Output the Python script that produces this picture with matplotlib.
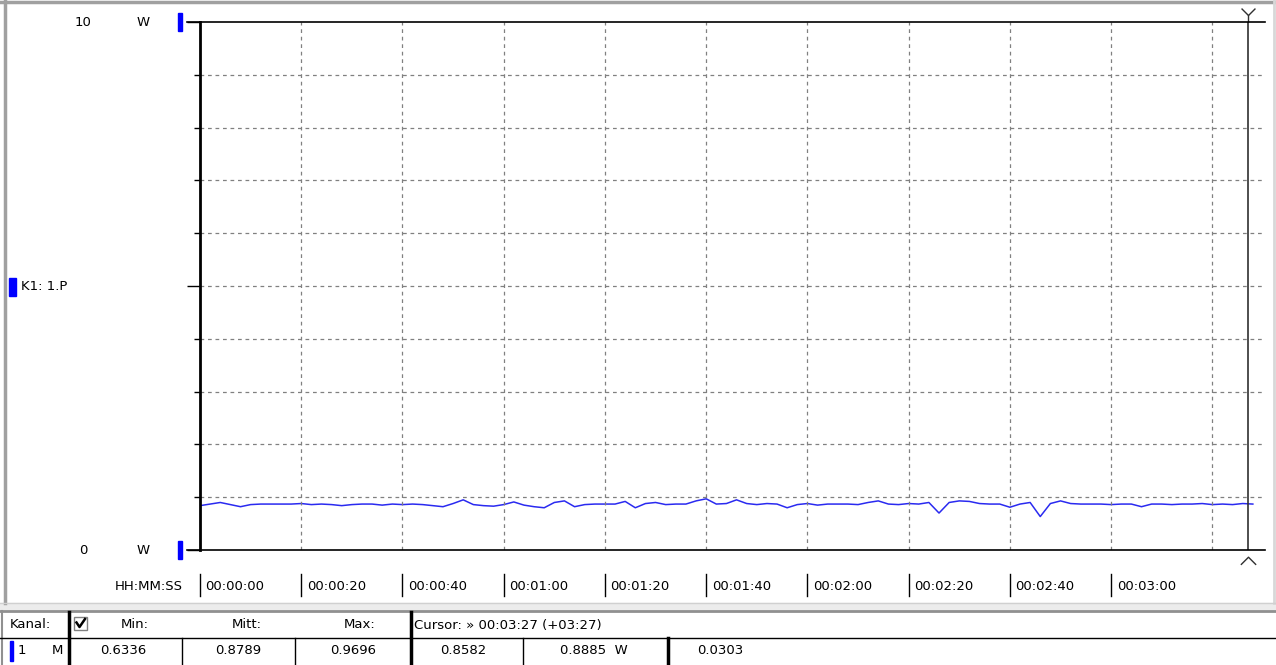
import matplotlib
matplotlib.use("Agg")
import matplotlib.pyplot as plt
from matplotlib.transforms import Affine2D
from matplotlib.path import Path
from matplotlib.lines import Line2D
from matplotlib.patches import Rectangle

plt.rcParams['font.family'] = ['DejaVu Sans']

#%% data
time_s = list(range(0, 210, 2))
power_w = [0.84, 0.87, 0.90, 0.86, 0.82, 0.86, 0.87, 0.87, 0.87, 0.87,
           0.88, 0.86, 0.87, 0.86, 0.84, 0.86, 0.87, 0.87, 0.85, 0.87,
           0.86, 0.87, 0.86, 0.84, 0.82, 0.88, 0.95, 0.86, 0.84, 0.83,
           0.86, 0.91, 0.85, 0.82, 0.80, 0.90, 0.93, 0.82, 0.86, 0.87,
           0.87, 0.87, 0.92, 0.80, 0.88, 0.90, 0.86, 0.87, 0.87, 0.93,
           0.9696, 0.87, 0.88, 0.95, 0.88, 0.86, 0.88, 0.87, 0.80, 0.86,
           0.88, 0.85, 0.87, 0.87, 0.87, 0.86, 0.90, 0.93, 0.87, 0.86,
           0.88, 0.87, 0.90, 0.70, 0.90, 0.93, 0.92, 0.88, 0.87, 0.87,
           0.81, 0.87, 0.90, 0.6336, 0.88, 0.93, 0.88, 0.87, 0.87, 0.87,
           0.86, 0.87, 0.87, 0.82, 0.87, 0.87, 0.86, 0.87, 0.87, 0.88,
           0.86, 0.87, 0.86, 0.88, 0.87]
x_ticks = [0, 20, 40, 60, 80, 100, 120, 140, 160, 180]
x_labels = ["00:00:00", "00:00:20", "00:00:40", "00:01:00", "00:01:20",
            "00:01:40", "00:02:00", "00:02:20", "00:02:40", "00:03:00"]
x_grid = [20, 40, 60, 80, 100, 120, 140, 160, 180, 200]
y_min, y_max = 0, 10
cursor_s = 207
t_end = 210.4

head_labels = ["Min:", "Mitt:", "Max:"]
row_values = ["0.6336", "0.8789", "0.9696", "0.8582", "0.8885  W", "0.0303"]
cursor_text = "Cursor: \u00bb 00:03:27 (+03:27)"

#%% figure
W, H = 1276, 665
fig = plt.figure(figsize=(W / 100, H / 100), dpi=100)
pix = Affine2D().scale(1 / W, -1 / H).translate(0, 1) + fig.transFigure
FS = 9.5

ax = fig.add_axes([200 / W, (H - 550) / H, 1065 / W, 528 / H])
ax.plot(time_s, power_w, color="#2a2af0", lw=1.1)
ax.set_xlim(0, t_end)
ax.set_ylim(y_min, y_max)

ax.set_yticks([0, 5, 10])
ax.set_yticks([1, 2, 3, 4, 6, 7, 8, 9], minor=True)
ax.set_xticks([])
ax.tick_params(axis="y", which="major", length=9.4, width=1, color="black",
               labelleft=False)
ax.tick_params(axis="y", which="minor", length=4.3, width=1, color="black")

for v in range(1, 10):
    ax.axhline(v, color="#808080", lw=0.9, ls=(0, (3, 3)))
for t in x_grid:
    ax.axvline(t, color="#808080", lw=0.9, ls=(0, (3, 3)))

ax.spines["right"].set_visible(False)
ax.spines["left"].set_linewidth(2)
ax.spines["top"].set_linewidth(1.2)
ax.spines["bottom"].set_linewidth(1.2)
# extend top/bottom lines to the left like the ticks
ax.plot([-0.012, 0], [1, 1], transform=ax.transAxes, color="black", lw=1.2, clip_on=False)
ax.plot([-0.012, 0], [0, 0], transform=ax.transAxes, color="black", lw=1.2, clip_on=False)

# cursor with Y mark on top and caret below
ax.axvline(cursor_s, color="#303030", lw=1.2)
xt = ax.get_xaxis_transform()
ymark = Path([(0, -1), (0, 0), (-1, 1), (0, 0), (1, 1)],
             [Path.MOVETO, Path.LINETO, Path.MOVETO, Path.LINETO, Path.LINETO])
ax.plot([cursor_s], [1.0 + 7 / 528], transform=xt, marker=ymark, ms=10,
        mec="#303030", mfc="none", mew=1, clip_on=False)
caret = Path([(-1, -0.7), (0, 0.3), (1, -0.7)], [Path.MOVETO, Path.LINETO, Path.LINETO])
ax.plot([cursor_s], [-9 / 528], transform=xt, marker=caret, ms=11,
        mec="#303030", mfc="none", mew=1, clip_on=False)

# x tick labels with bars
for t, lab in zip(x_ticks, x_labels):
    ax.plot([t, t], [-24 / 528, -46 / 528], transform=xt, color="black", lw=1, clip_on=False)
    ax.annotate(lab, (t, -37 / 528), xycoords=xt, xytext=(4, 0), textcoords="offset points",
                ha="left", va="center", fontsize=FS)
fig.text(183, 587, "HH:MM:SS", transform=pix, ha="right", va="center", fontsize=FS)

# y labels
fig.text(83, 22, "10", transform=pix, ha="center", va="center", fontsize=FS)
fig.text(143, 22, "W", transform=pix, ha="center", va="center", fontsize=FS)
fig.text(83, 550, "0", transform=pix, ha="center", va="center", fontsize=FS)
fig.text(143, 550, "W", transform=pix, ha="center", va="center", fontsize=FS)
fig.text(21, 287, "K1: 1.P", transform=pix, ha="left", va="center", fontsize=FS)
for (x0, y0, w, h) in [(178, 13, 4, 18), (178, 541, 4, 18), (9, 278, 7, 18), (10, 641, 3, 20)]:
    fig.patches.append(Rectangle((x0, y0), w, h, transform=pix, color="#0000ff"))

#%% window frame and table
def line(xs, ys, c="black", lw=1.0):
    fig.lines.append(Line2D(xs, ys, transform=pix, color=c, lw=lw))

fig.patches.append(Rectangle((0, 603), W, 8, transform=pix, color="#ececec"))
line([0, W], [1.5, 1.5], "#a0a0a0", 2.5)
line([4.5, 4.5], [0, 603], "#a0a0a0", 2.5)
line([W - 2, W - 2], [0, 603], "#d8d8d8", 2)
line([0, W], [603, 603], "#d0d0d0", 1)
line([0, W], [611, 611], "#909090", 2)
line([2, 2], [611, H], "#909090", 1.5)
line([0, W], [637.5, 637.5], "black", 1)
line([69, 69], [612, H], "black", 2.5)
line([411, 411], [612, H], "black", 2.5)
line([668, 668], [638, H], "black", 2.5)
for x in [182, 295, 523]:
    line([x, x], [638, H], "black", 1)

# header row
fig.text(10, 625, "Kanal:", transform=pix, ha="left", va="center", fontsize=FS)
fig.patches.append(Rectangle((74, 617), 13, 13, transform=pix, fill=False,
                             ec="#808080", lw=1))
line([76.5, 79.5, 85], [622.5, 627, 619], "black", 1.8)
for xc, lab in zip([135, 247, 360], head_labels):
    fig.text(xc, 625, lab, transform=pix, ha="center", va="center", fontsize=FS)
fig.text(414, 625, cursor_text, transform=pix, ha="left", va="center", fontsize=FS)

# value row
fig.text(18, 651, "1", transform=pix, ha="left", va="center", fontsize=FS)
fig.text(63, 651, "M", transform=pix, ha="right", va="center", fontsize=FS)
for xc, val in zip([123, 238, 353, 463, 594], row_values[:5]):
    fig.text(xc, 651, val, transform=pix, ha="center", va="center", fontsize=FS)
fig.text(697, 651, row_values[5], transform=pix, ha="left", va="center", fontsize=FS)

fig.savefig("out.png", dpi=100)
